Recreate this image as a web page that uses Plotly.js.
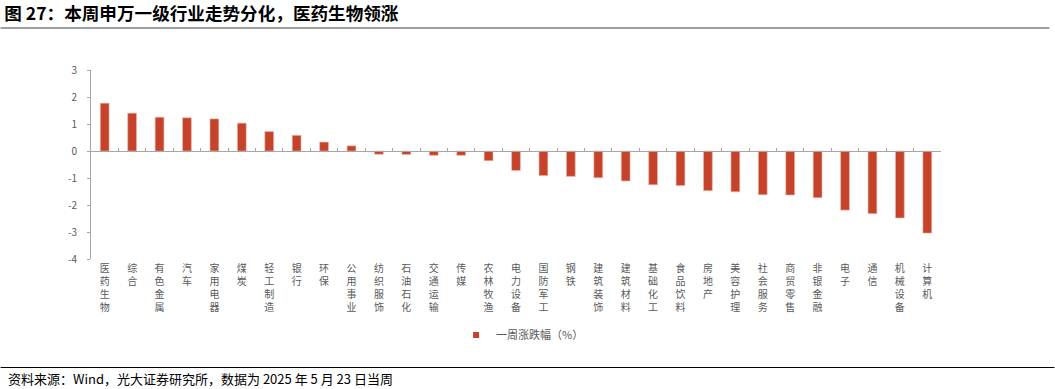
<!DOCTYPE html>
<html>
<head>
<meta charset="utf-8">
<script src="https://cdn.plot.ly/plotly-3.0.1.min.js"></script>
<style>html,body{margin:0;padding:0;background:#fff;}#chart{width:1055px;height:389px;}</style>
</head>
<body>
<div id="chart"></div>
<script>
const categories = ["医药生物","综合","有色金属","汽车","家用电器","煤炭","轻工制造","银行","环保","公用事业","纺织服饰","石油石化","交通运输","传媒","农林牧渔","电力设备","国防军工","钢铁","建筑装饰","建筑材料","基础化工","食品饮料","房地产","美容护理","社会服务","商贸零售","非银金融","电子","通信","机械设备","计算机"];
const weeklyChange = [1.77,1.40,1.25,1.23,1.19,1.03,0.72,0.58,0.33,0.19,-0.12,-0.13,-0.16,-0.16,-0.36,-0.72,-0.91,-0.94,-0.99,-1.11,-1.25,-1.28,-1.47,-1.51,-1.62,-1.63,-1.73,-2.19,-2.32,-2.48,-3.04];
const seriesName = "一周涨跌幅（%）";
const titleText = "图 27：本周申万一级行业走势分化，医药生物领涨";
const sourceText = "资料来源：Wind，光大证券研究所，数据为 2025 年 5 月 23 日当周";
const yTicks = [3,2,1,0,-1,-2,-3,-4];

const FONT = '"Noto Sans CJK SC", "Noto Sans", sans-serif';
const BAR_COLOR = '#C5432A';
const verticalLabels = categories.map(c => c.split('').join('<br>'));
const boundaries = [];
for (let i = 0; i <= categories.length; i++) boundaries.push(i - 0.5);

const W = 1055, H = 389;
const L = 90.5, R = 941.5, T = 70, B = 259;
const pw = R - L, ph = B - T;
const px = v => (v - L) / pw;
const py = v => (B - v) / ph;

const data = [
  {
    type: 'bar',
    x: categories.map((c, i) => i),
    y: weeklyChange,
    name: seriesName,
    width: 0.32,
    marker: {color: BAR_COLOR, line: {color: '#EDB3A6', width: 0.6}},
    showlegend: false,
    hoverinfo: 'x+y'
  },
  {
    type: 'scatter', mode: 'markers',
    x: [null], y: [null],
    name: seriesName,
    marker: {symbol: 'square', size: 6, color: BAR_COLOR},
    showlegend: true, hoverinfo: 'skip'
  },
  {
    type: 'scatter', mode: 'markers',
    x: [-0.5], y: [0], xaxis: 'x2', yaxis: 'y',
    marker: {opacity: 0}, showlegend: false, hoverinfo: 'skip'
  }
];

const layout = {
  width: W, height: H,
  margin: {l: L, r: W - R, t: T, b: H - B, pad: 0},
  paper_bgcolor: '#fff', plot_bgcolor: '#fff',
  font: {family: FONT, color: '#595959', size: 10},
  showlegend: true,
  title: {
    text: '<b>' + titleText + '</b>',
    font: {family: FONT, size: 17.6, color: '#000'},
    xref: 'container', yref: 'container',
    x: 0.004, xanchor: 'left', y: 1 - 14 / H, yanchor: 'middle'
  },
  xaxis: {
    type: 'linear',
    range: [-0.5, categories.length - 0.5],
    tickmode: 'array',
    tickvals: categories.map((c, i) => i),
    ticktext: verticalLabels,
    tickfont: {family: FONT, size: 10, color: '#595959'},
    ticks: '', showline: false, showgrid: false, zeroline: false,
    tickangle: 0,
    ticklabelstandoff: 2,
    fixedrange: true
  },
  xaxis2: {
    type: 'linear',
    overlaying: 'x',
    anchor: 'free',
    position: 4 / 7,
    range: [-0.5, categories.length - 0.5],
    tickmode: 'array',
    tickvals: boundaries,
    showticklabels: false,
    ticks: 'inside', ticklen: 3, tickwidth: 1, tickcolor: '#A6A6A6',
    showline: true, linecolor: '#A6A6A6', linewidth: 1,
    showgrid: false, zeroline: false
  },
  yaxis: {
    range: [-4, 3],
    tickmode: 'array',
    tickvals: yTicks,
    ticktext: yTicks.map(String),
    tickfont: {family: FONT, size: 10, color: '#595959'},
    ticks: 'outside', ticklen: 3, tickwidth: 1, tickcolor: '#A6A6A6',
    showline: true, linecolor: '#A6A6A6', linewidth: 1,
    showgrid: false, zeroline: false,
    ticklabelstandoff: 8
  },
  legend: {
    orientation: 'h',
    x: px(456), xanchor: 'left',
    y: py(335), yanchor: 'middle',
    font: {family: FONT, size: 11, color: '#595959'},
    itemwidth: 30,
    bgcolor: 'rgba(0,0,0,0)'
  },
  shapes: [
    {type: 'line', xref: 'paper', yref: 'paper',
     x0: px(0), x1: px(1050), y0: py(28), y1: py(28),
     line: {color: '#404040', width: 1.2}},
    {type: 'line', xref: 'paper', yref: 'paper',
     x0: px(0), x1: px(1055), y0: py(367.5), y1: py(367.5),
     line: {color: '#000', width: 1}}
  ],
  annotations: [
    {text: sourceText, xref: 'paper', yref: 'paper',
     x: px(5), xanchor: 'left', y: py(378), yanchor: 'middle',
     showarrow: false, font: {family: FONT, size: 13, color: '#000'}}
  ],
  bargap: 0.68
};

Plotly.newPlot('chart', data, layout, {displayModeBar: false, staticPlot: true});
</script>
</body>
</html>
